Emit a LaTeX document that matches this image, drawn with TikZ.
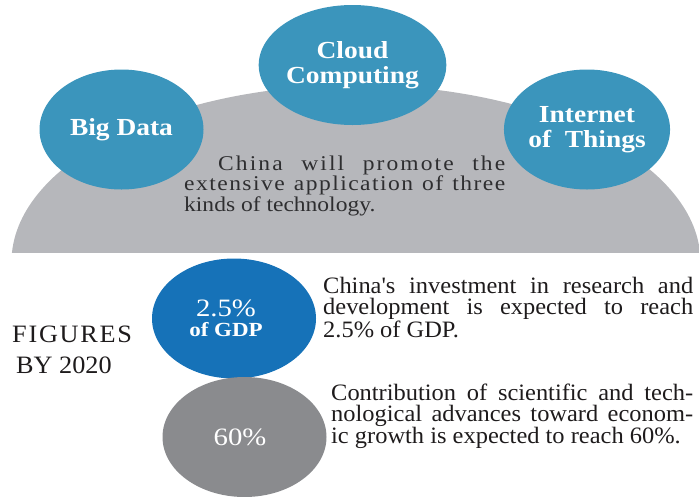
\documentclass[tikz,border=0pt]{standalone}
\usepackage{fontspec}
\setmainfont{Liberation Serif}
\newfontfamily\bubblefont[FakeStretch=1.12]{Liberation Serif}
\newfontfamily\figfont[FakeStretch=1.15]{Liberation Serif}
\newfontfamily\domefont[FakeStretch=1.12]{Liberation Serif}
\newfontfamily\notefont[FakeStretch=1.04]{Liberation Serif}
\newfontfamily\sidefont[FakeStretch=1.05]{Liberation Serif}
\usetikzlibrary{shapes.geometric}
\usetikzlibrary{positioning}
\setlength{\lineskiplimit}{-100pt}

\definecolor{techblue}{HTML}{3B95BC}
\definecolor{domegray}{HTML}{B6B7BB}
\definecolor{gdpblue}{HTML}{1672B8}
\definecolor{sixtygray}{HTML}{8A8B8E}
\definecolor{ink}{HTML}{1E1B1C}
\definecolor{domeink}{HTML}{2E2E30}

\begin{document}
\begin{tikzpicture}[
    x=1pt, y=-1pt,
    font=\bubblefont
]
\tikzset{
    bubble/.style = {ellipse, inner sep=0pt, minimum width=164pt, minimum height=120pt, align=center, text=white},
    techbubble/.style = {bubble, fill=techblue, font=\bubblefont\bfseries\fontsize{24.5}{25}\selectfont},
    figbubble/.style = {bubble, font=\figfont\fontsize{25}{20}\selectfont},
    note/.style = {anchor=base west, inner sep=0pt, align=justify, text=ink,
                   font=\notefont\fontsize{23.5}{21.5}\selectfont}
}
\useasboundingbox (0,0) rectangle (699,496);

% the dome
\begin{scope}
\clip (0,0) rectangle (699,252);
\fill[domegray] (356,262) ellipse [x radius=344.5, y radius=177];
\end{scope}

\node[techbubble] at (121.5,129.5) (bigdata) {Big Data};
\node[techbubble] at (352.5,65) (cloud) {Cloud\\Computing};
\node[techbubble] at (587,129.5) (iot) {Internet\\of~~Things};

\node[anchor=base west, inner sep=0pt, text width=321pt, align=justify, text=domeink,
      font=\domefont\fontsize{21}{20.5}\selectfont] at (184,170) (promote)
    {{\addfontfeature{LetterSpace=10}\hspace*{34pt}China will promote the\linebreak}%
     {\addfontfeature{LetterSpace=7}extensive application of three\linebreak}kinds of technology.};

% figures by 2020
\node[figbubble, fill=gdpblue] at (234,318.5) (gdp)
    {\hspace*{-16pt}2.5\%\\\hspace*{-16pt}{\bfseries\fontsize{20}{20}\selectfont of~GDP}};
\node[figbubble, fill=sixtygray] at (244.5,437) (sixty) {\hspace*{-9pt}60\%};

\node[anchor=base west, inner sep=0pt, align=left, text=ink,
      font=\sidefont\fontsize{25}{31}\selectfont] at (12,373) (figures)
    {{\addfontfeature{LetterSpace=7}FIGURES}\\\hspace*{4pt}BY 2020};

\node[note, text width=370pt] at (323,293) (invest)
    {China's investment in research and\linebreak development is expected to reach\linebreak 2.5\% of GDP.};
\node[note, text width=362pt] at (331,400) (growth)
    {Contribution of scientific and tech-\linebreak nological advances toward econom-\linebreak ic growth is expected to reach 60\%.};
\end{tikzpicture}
\end{document}
